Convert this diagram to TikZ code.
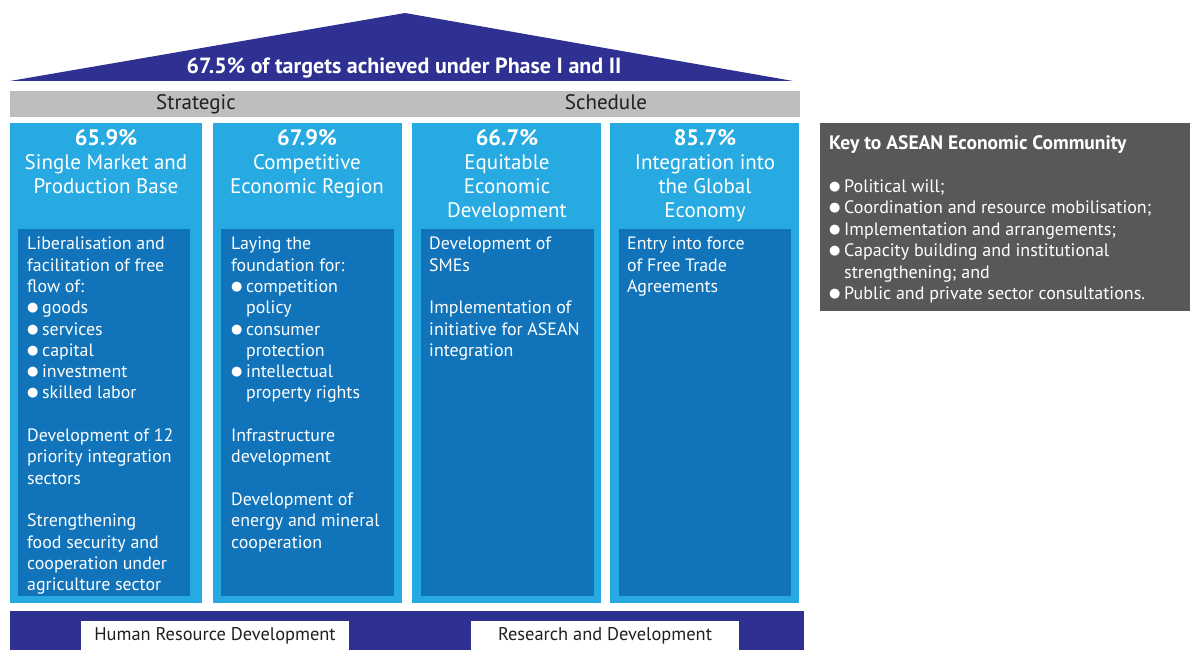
\documentclass[tikz,border=0pt]{standalone}
\usepackage{fontspec}
\setmainfont{PT Sans}
\newfontfamily\symfont{DejaVu Sans}

\definecolor{roofblue}{HTML}{2E3192}
\definecolor{pillarblue}{HTML}{27AAE1}
\definecolor{innerblue}{HTML}{1174BB}
\definecolor{bargray}{HTML}{BCBEC0}
\definecolor{keygray}{HTML}{58585A}
\definecolor{ink}{HTML}{231F20}

% bullet items with hanging indent
\newcommand\bulletglyph{\raisebox{2pt}{\symfont\fontsize{13}{13}\selectfont ●}}
\newcommand\bitem[1]{\makebox[15pt][l]{\bulletglyph}#1}
\newcommand\bcont[1]{\hspace*{15pt}#1}

\tikzset{
  panel/.style={inner sep=0pt, outer sep=0pt, anchor=north west},
  pillar/.style={panel, fill=pillarblue, minimum width=#1, minimum height=480pt},
  innerbox/.style={panel, fill=innerblue, minimum width=#1, minimum height=367pt},
  headtext/.style={inner sep=0pt, anchor=north, align=center, text=white,
    font=\fontsize{21}{24}\selectfont},
  bodytext/.style={inner sep=0pt, anchor=north west, align=left, text=white,
    font=\fontsize{17.9}{21.3}\selectfont},
  bartext/.style={inner sep=0pt, anchor=base, text=ink, font=\fontsize{21}{22}\selectfont},
  labelbox/.style={panel, fill=white, minimum width=268pt, minimum height=29pt,
    text=ink, font=\fontsize{18.4}{20}\selectfont},
}

\begin{document}
\begin{tikzpicture}[x=1pt, y=-1pt]
\useasboundingbox (0,0) rectangle (1190,650);

% roof
\fill[roofblue] (10,81) -- (405,13) -- (793,81) -- cycle;
\node[inner sep=0pt, text=white, font=\bfseries\fontsize{22}{24}\selectfont] (roof) at (404,68)
  {67.5\% of targets achieved under Phase I and II};

% strategic schedule bar
\node[panel, fill=bargray, minimum width=790pt, minimum height=26pt] (bar) at (10,91) {};
\node[bartext] (strategic) at (196,110) {Strategic};
\node[bartext] (schedule) at (606,110) {Schedule};

% pillars
\node[pillar=192pt] (p1) at (10,123) {};
\node[pillar=189pt] (p2) at (213,123) {};
\node[pillar=189pt] (p3) at (412,123) {};
\node[pillar=189pt] (p4) at (610,123) {};

\node[innerbox=172pt] (i1) at (18,229) {};
\node[innerbox=173pt] (i2) at (221,229) {};
\node[innerbox=173pt] (i3) at (421,229) {};
\node[innerbox=172pt] (i4) at (619,229) {};

% pillar headings
\newcommand\pct[1]{{\bfseries\fontsize{22.4}{24}\selectfont #1}}
\node[headtext] (h1) at (106,129) {\pct{65.9\%}\\Single Market and\\Production Base};
\node[headtext] (h2) at (307,129) {\pct{67.9\%}\\Competitive\\Economic Region};
\node[headtext] (h3) at (507,129) {\pct{66.7\%}\\Equitable\\Economic\\Development};
\node[headtext] (h4) at (705,129) {\pct{85.7\%}\\Integration into\\the Global\\Economy};

% pillar contents
\node[bodytext] (t1) at (27,237) {Liberalisation and\\facilitation of free\\flow of:\\
  \bitem{goods}\\\bitem{services}\\\bitem{capital}\\\bitem{investment}\\\bitem{skilled labor}\\[21.3pt]
  Development of 12\\priority integration\\sectors\\[21.3pt]
  Strengthening\\food security and\\cooperation under\\agriculture sector};

\node[bodytext] (t2) at (231,237) {Laying the\\foundation for:\\
  \bitem{competition}\\\bcont{policy}\\\bitem{consumer}\\\bcont{protection}\\
  \bitem{intellectual}\\\bcont{property rights}\\[21.3pt]
  Infrastructure\\development\\[21.3pt]
  Development of\\energy and mineral\\cooperation};

\node[bodytext] (t3) at (429,237) {Development of\\SMEs\\[21.3pt]
  Implementation of\\initiative for ASEAN\\integration};

\node[bodytext] (t4) at (627,237) {Entry into force\\of Free Trade\\Agreements};

% foundation
\node[panel, fill=roofblue, minimum width=794pt, minimum height=39pt] (base) at (10,611) {};
\node[labelbox] (hrd) at (81,621) {Human Resource Development};
\node[labelbox] (rnd) at (471,621) {Research and Development};

% key box
\node[panel, fill=keygray, minimum width=370pt, minimum height=188pt] (key) at (820,123) {};
\node[bodytext, font=\fontsize{18}{21.5}\selectfont] (keytext) at (829,135)
  {{\bfseries\fontsize{19.5}{21.5}\selectfont Key to ASEAN Economic Community}\\[21.5pt]
  \bitem{Political will;}\\
  \bitem{Coordination and resource mobilisation;}\\
  \bitem{Implementation and arrangements;}\\
  \bitem{Capacity building and institutional}\\
  \bcont{strengthening; and}\\
  \bitem{Public and private sector consultations.}};
\end{tikzpicture}
\end{document}
